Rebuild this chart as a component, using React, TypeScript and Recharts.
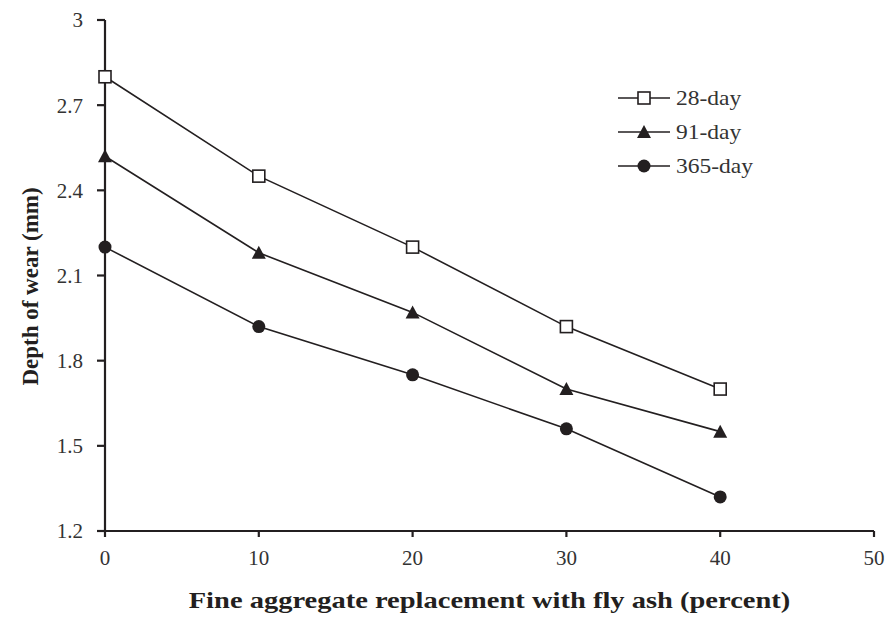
import React from "react";
import { LineChart, Line, XAxis, YAxis } from "recharts";

const REPLACEMENT = [0, 10, 20, 30, 40];
const DAY28 = [2.8, 2.45, 2.2, 1.92, 1.7];
const DAY91 = [2.52, 2.18, 1.97, 1.7, 1.55];
const DAY365 = [2.2, 1.92, 1.75, 1.56, 1.32];

const X_TICKS = [0, 10, 20, 30, 40, 50];
const Y_TICKS = [1.2, 1.5, 1.8, 2.1, 2.4, 2.7, 3];

const SERIES = [
  { key: "d28", name: "28-day", shape: "square" },
  { key: "d91", name: "91-day", shape: "triangle" },
  { key: "d365", name: "365-day", shape: "circle" },
];

const data = REPLACEMENT.map((x, i) => ({
  x,
  d28: DAY28[i],
  d91: DAY91[i],
  d365: DAY365[i],
}));

const FONT = "'Liberation Serif', 'Times New Roman', serif";
const INK = "#231f20";

const Marker = ({ shape, cx, cy }: { shape: string; cx: number; cy: number }) => {
  if (shape === "square") {
    return (
      <rect x={cx - 6} y={cy - 6} width={12} height={12} fill="#fff" stroke={INK} strokeWidth={1.6} />
    );
  }
  if (shape === "triangle") {
    return (
      <polygon
        points={`${cx},${cy - 7} ${cx + 7},${cy + 6} ${cx - 7},${cy + 6}`}
        fill={INK}
      />
    );
  }
  return <circle cx={cx} cy={cy} r={6.5} fill={INK} />;
};

const makeDot = (shape: string) => (props: any) => {
  const { cx, cy, index } = props;
  if (cx == null || cy == null) return <g key={index} />;
  return <Marker key={index} shape={shape} cx={cx} cy={cy} />;
};

// stretched a bit horizontally, like the scanned figure
const XTitle = (props: any) => {
  const { viewBox } = props;
  const cx = viewBox.x + viewBox.width / 2;
  const y = viewBox.y + viewBox.height - 9;
  return (
    <text
      transform={`translate(${cx}, ${y}) scale(1.24, 1)`}
      textAnchor="middle"
      fontSize={23}
      fontWeight="bold"
      fontFamily={FONT}
      fill={INK}
    >
      Fine aggregate replacement with fly ash (percent)
    </text>
  );
};

const YTitle = (props: any) => {
  const { viewBox } = props;
  const cy = viewBox.y + viewBox.height / 2 + 11;
  return (
    <text
      transform={`translate(38, ${cy}) rotate(-90)`}
      textAnchor="middle"
      fontSize={23}
      fontWeight="bold"
      fontFamily={FONT}
      fill={INK}
    >
      Depth of wear (mm)
    </text>
  );
};

const ChartLegend = () => (
  <svg
    width={170}
    height={110}
    style={{ position: "absolute", left: 616, top: 86 }}
  >
    {SERIES.map((s, i) => {
      const y = 12 + i * 34;
      return (
        <g key={s.key}>
          <line x1={2} x2={54} y1={y} y2={y} stroke={INK} strokeWidth={1.6} />
          <Marker shape={s.shape} cx={28} cy={y} />
          <text
            transform={`translate(60, ${y + 7}) scale(1.12, 1)`}
            fontSize={21}
            fontFamily={FONT}
            fill="#333"
          >
            {s.name}
          </text>
        </g>
      );
    })}
  </svg>
);

export default function App() {
  return (
    <div style={{ position: "relative", width: 891, height: 617, background: "#fff" }}>
      <style>{"body{margin:0}"}</style>
      <LineChart
        width={891}
        height={617}
        data={data}
        margin={{ top: 20, right: 17, bottom: 0, left: 0 }}
      >
        <XAxis
          dataKey="x"
          type="number"
          domain={[0, 50]}
          ticks={X_TICKS}
          height={86}
          stroke={INK}
          strokeWidth={2.2}
          tickSize={6}
          tickMargin={13}
          tick={{ fontSize: 21, fontFamily: FONT, fill: "#333" }}
          label={<XTitle />}
        />
        <YAxis
          type="number"
          domain={[1.2, 3]}
          ticks={Y_TICKS}
          width={105}
          stroke={INK}
          strokeWidth={2.2}
          tickSize={8}
          tickMargin={14}
          tick={{ fontSize: 21, fontFamily: FONT, fill: "#333" }}
          label={<YTitle />}
        />
        {SERIES.map((s) => (
          <Line
            key={s.key}
            dataKey={s.key}
            name={s.name}
            stroke={INK}
            strokeWidth={1.6}
            dot={makeDot(s.shape)}
            activeDot={false}
            isAnimationActive={false}
          />
        ))}
      </LineChart>
      <ChartLegend />
    </div>
  );
}
